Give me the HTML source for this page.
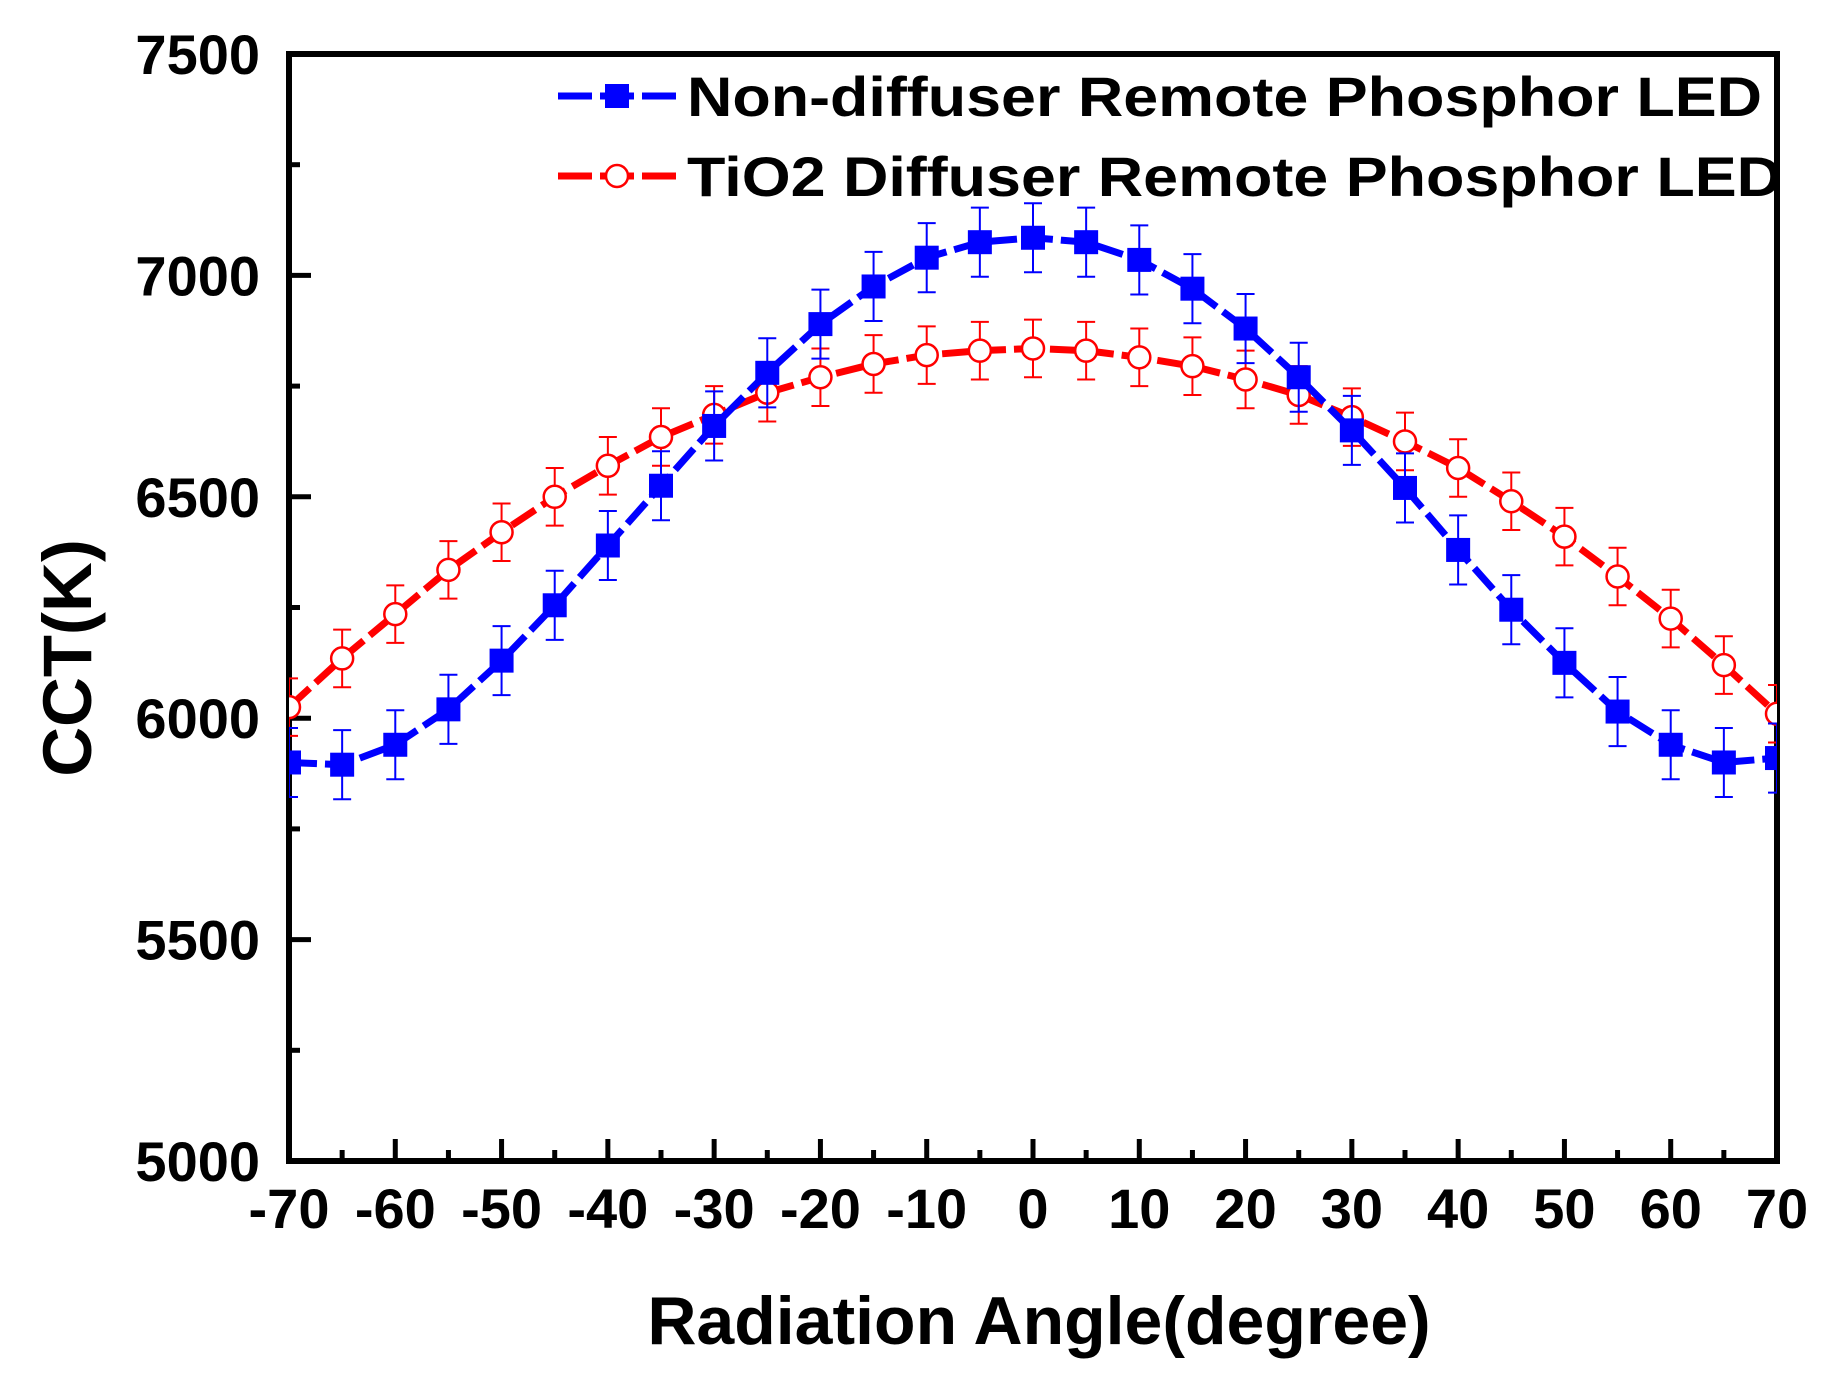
<!DOCTYPE html>
<html><head><meta charset="utf-8"><style>html,body{margin:0;padding:0;background:#fff}svg{display:block}</style></head>
<body>
<svg id="s" width="1833" height="1390" viewBox="0 0 1833 1390" xmlns="http://www.w3.org/2000/svg" font-family="Liberation Sans, Arial, sans-serif" font-weight="bold">
<g id="g"></g>
<text x="66" y="658" font-size="69" text-anchor="middle" transform="rotate(-90 66 658)" dy="25">CCT(K)</text>
<text x="1039" y="1344" font-size="68" text-anchor="middle">Radiation Angle(degree)</text>
</svg>
<script>
const X0=289,X1=1777,Y0=1161,Y1=54;
const px=a=>X0+(a+70)/140*(X1-X0), py=v=>Y0-(v-5000)/2500*(Y0-Y1);
const ang=[];for(let a=-70;a<=70;a+=5)ang.push(a);
const blue=[5900,5895,5940,6020,6130,6255,6390,6525,6660,6780,6890,6975,7040,7075,7085,7075,7035,6970,6880,6770,6650,6520,6380,6245,6125,6015,5940,5900,5910];
const red=[6025,6135,6235,6335,6420,6500,6570,6635,6685,6735,6770,6800,6820,6830,6835,6830,6815,6795,6765,6730,6680,6625,6565,6490,6410,6320,6225,6120,6010];
let h='';
for(let v=5000;v<=7500;v+=250){const y=py(v);const maj=v%500==0;h+=`<line x1="${X0}" y1="${y}" x2="${X0+(maj?22:11)}" y2="${y}" stroke="#000" stroke-width="5"/>`;
 if(maj)h+=`<text x="260" y="${y+20}" font-size="56" text-anchor="end">${v}</text>`;}
for(let a=-70;a<=70;a+=5){const x=px(a);const maj=a%10==0;h+=`<line x1="${x}" y1="${Y0}" x2="${x}" y2="${Y0-(maj?22:11)}" stroke="#000" stroke-width="5"/>`;
 if(maj)h+=`<text x="${x}" y="1228" font-size="56" text-anchor="middle">${a}</text>`;}
h+=`<rect x="${X0}" y="${Y1}" width="${X1-X0}" height="${Y0-Y1}" fill="none" stroke="#000" stroke-width="6"/>`;
h+=`<clipPath id="c"><rect x="${X0}" y="${Y1}" width="${X1-X0}" height="${Y0-Y1}"/></clipPath><g clip-path="url(#c)">`;
function series(d,col,e,sq){let p=ang.map((a,i)=>px(a)+','+py(d[i])).join(' ');
 h+=`<polyline points="${p}" fill="none" stroke="${col}" stroke-width="7" stroke-dasharray="28,8"/>`;
 ang.forEach((a,i)=>{const x=px(a),y=py(d[i]),t=py(d[i]+e),b=py(d[i]-e);
  h+=`<line x1="${x}" y1="${t}" x2="${x}" y2="${b}" stroke="${col}" stroke-width="2"/><line x1="${x-9}" y1="${t}" x2="${x+9}" y2="${t}" stroke="${col}" stroke-width="2"/><line x1="${x-9}" y1="${b}" x2="${x+9}" y2="${b}" stroke="${col}" stroke-width="2"/>`;
  h+= sq?`<rect x="${x-12}" y="${y-12}" width="24" height="24" fill="${col}"/>`:`<circle cx="${x}" cy="${y}" r="11" fill="#fff" stroke="${col}" stroke-width="2.5"/>`;});}
series(red,'#f00',65,false);
series(blue,'#00f',78,true);
h+='</g>';
h+=`<line x1="558" y1="96" x2="676" y2="96" stroke="#00f" stroke-width="7" stroke-dasharray="34,8"/><rect x="605" y="84" width="24" height="24" fill="#00f"/>`;
h+=`<text x="687" y="116" font-size="56" textLength="1075" lengthAdjust="spacingAndGlyphs">Non-diffuser Remote Phosphor LED</text>`;
h+=`<line x1="558" y1="176" x2="676" y2="176" stroke="#f00" stroke-width="7" stroke-dasharray="34,8"/><circle cx="617" cy="176" r="11" fill="#fff" stroke="#f00" stroke-width="2.5"/>`;
h+=`<text x="687" y="196" font-size="56" textLength="1095" lengthAdjust="spacingAndGlyphs">TiO2 Diffuser Remote Phosphor LED</text>`;
document.getElementById('g').innerHTML=h;
</script>
</body></html>
